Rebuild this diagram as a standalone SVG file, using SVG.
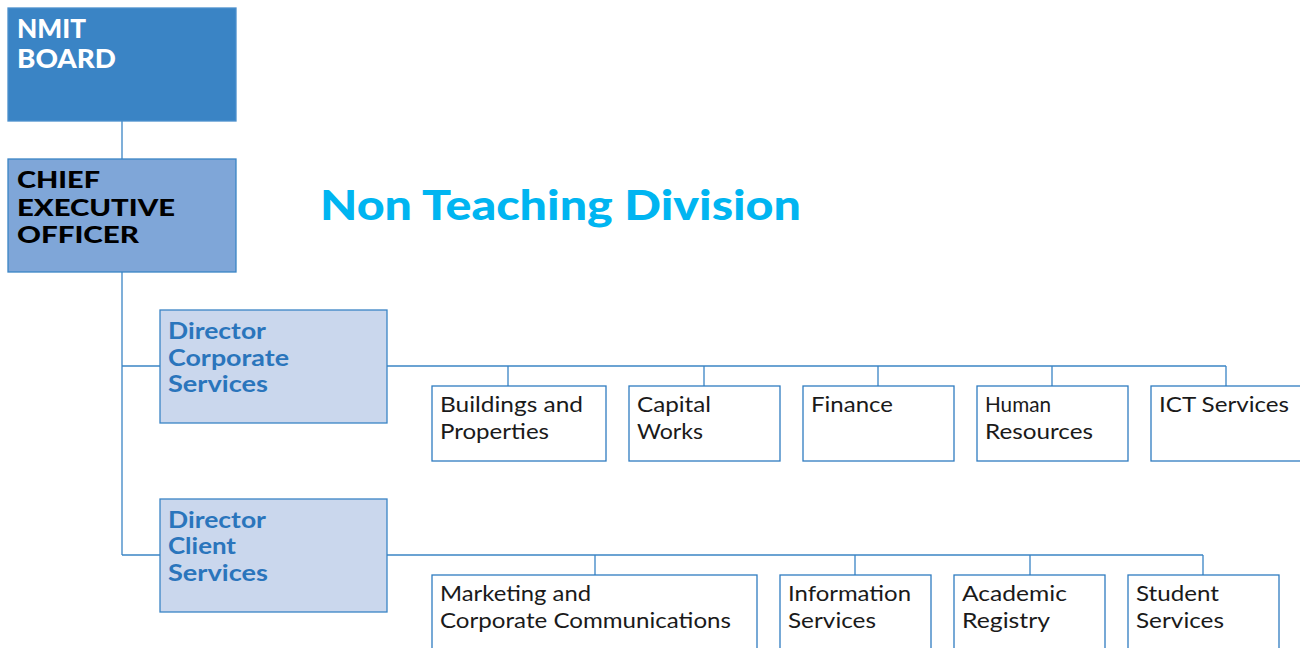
<svg xmlns="http://www.w3.org/2000/svg" width="1300" height="648" viewBox="0 0 1300 648">
  <style>
    text { font-family: Lato, "Noto Sans", sans-serif; }
    .board { fill: #3a84c5; stroke: #4a8fcc; stroke-width: 1.3; }
    .ceo { fill: #7fa6d8; stroke: #3a84c5; stroke-width: 1.3; }
    .dir { fill: #cad7ed; stroke: #3a84c5; stroke-width: 1.3; }
    .unit { fill: #ffffff; stroke: #2f7cc0; stroke-width: 1.3; }
    .t-board { fill: #ffffff; font-size: 26px; font-weight: 900; }
    .t-ceo { fill: #000000; font-size: 22px; font-weight: 900; }
    .t-dir { fill: #2a75bc; font-size: 22px; font-weight: 700; }
    .t-unit { fill: #1a1a1a; font-size: 20.5px; font-weight: 400; }
    .title { fill: #00b5f1; font-size: 41px; font-weight: 900; }
    .wire { fill: none; stroke: #3a84c5; stroke-width: 1.3; }
  </style>

  <!-- connectors -->
  <g id="connectors" class="wire">
    <path d="M122 121 V159"/>
    <path d="M122 272 V555"/>
    <path d="M122 366 H160"/>
    <path d="M122 555 H160"/>
    <path d="M387 366 H1226"/>
    <path d="M508 366 V386 M704 366 V386 M878 366 V386 M1052 366 V386 M1226 366 V386"/>
    <path d="M387 555 H1203"/>
    <path d="M595 555 V575 M855 555 V575 M1030 555 V575 M1203 555 V575"/>
  </g>

  <text class="title" x="320" y="220" textLength="481" lengthAdjust="spacingAndGlyphs">Non Teaching Division</text>

  <g id="nmit-board">
    <rect class="board" x="8" y="8" width="228" height="113"/>
    <text class="t-board" x="17" y="38" textLength="69" lengthAdjust="spacingAndGlyphs">NMIT</text>
    <text class="t-board" x="17" y="68" textLength="99" lengthAdjust="spacingAndGlyphs">BOARD</text>
  </g>

  <g id="ceo">
    <rect class="ceo" x="8" y="159" width="228" height="113"/>
    <text class="t-ceo" x="17" y="188" textLength="83" lengthAdjust="spacingAndGlyphs">CHIEF</text>
    <text class="t-ceo" x="17" y="216" textLength="158" lengthAdjust="spacingAndGlyphs">EXECUTIVE</text>
    <text class="t-ceo" x="17" y="243" textLength="122" lengthAdjust="spacingAndGlyphs">OFFICER</text>
  </g>

  <g id="director-corporate">
    <rect class="dir" x="160" y="310" width="227" height="113"/>
    <text class="t-dir" x="168" y="339" textLength="98" lengthAdjust="spacingAndGlyphs">Director</text>
    <text class="t-dir" x="168" y="366" textLength="121" lengthAdjust="spacingAndGlyphs">Corporate</text>
    <text class="t-dir" x="168" y="392" textLength="100" lengthAdjust="spacingAndGlyphs">Services</text>
  </g>

  <g id="director-client">
    <rect class="dir" x="160" y="499" width="227" height="113"/>
    <text class="t-dir" x="168" y="528" textLength="98" lengthAdjust="spacingAndGlyphs">Director</text>
    <text class="t-dir" x="168" y="554" textLength="68" lengthAdjust="spacingAndGlyphs">Client</text>
    <text class="t-dir" x="168" y="581" textLength="100" lengthAdjust="spacingAndGlyphs">Services</text>
  </g>

  <!-- corporate services units -->
  <g id="buildings">
    <rect class="unit" x="432" y="386" width="174" height="75"/>
    <text class="t-unit" x="440" y="412" textLength="143" lengthAdjust="spacingAndGlyphs">Buildings and</text>
    <text class="t-unit" x="440" y="439" textLength="109" lengthAdjust="spacingAndGlyphs">Properties</text>
  </g>
  <g id="capital-works">
    <rect class="unit" x="629" y="386" width="151" height="75"/>
    <text class="t-unit" x="637" y="412" textLength="74" lengthAdjust="spacingAndGlyphs">Capital</text>
    <text class="t-unit" x="637" y="439" textLength="66" lengthAdjust="spacingAndGlyphs">Works</text>
  </g>
  <g id="finance">
    <rect class="unit" x="803" y="386" width="151" height="75"/>
    <text class="t-unit" x="811" y="412" textLength="82" lengthAdjust="spacingAndGlyphs">Finance</text>
  </g>
  <g id="human-resources">
    <rect class="unit" x="977" y="386" width="151" height="75"/>
    <text class="t-unit" x="985" y="412" textLength="66" lengthAdjust="spacingAndGlyphs">Human</text>
    <text class="t-unit" x="985" y="439" textLength="108" lengthAdjust="spacingAndGlyphs">Resources</text>
  </g>
  <g id="ict-services">
    <rect class="unit" x="1151" y="386" width="151" height="75"/>
    <text class="t-unit" x="1159" y="412" textLength="130" lengthAdjust="spacingAndGlyphs">ICT Services</text>
  </g>

  <!-- client services units -->
  <g id="marketing">
    <rect class="unit" x="432" y="575" width="325" height="80"/>
    <text class="t-unit" x="440" y="601" textLength="151" lengthAdjust="spacingAndGlyphs">Marketing and</text>
    <text class="t-unit" x="440" y="628" textLength="291" lengthAdjust="spacingAndGlyphs">Corporate Communications</text>
  </g>
  <g id="information-services">
    <rect class="unit" x="780" y="575" width="151" height="80"/>
    <text class="t-unit" x="788" y="601" textLength="123" lengthAdjust="spacingAndGlyphs">Information</text>
    <text class="t-unit" x="788" y="628" textLength="88" lengthAdjust="spacingAndGlyphs">Services</text>
  </g>
  <g id="academic-registry">
    <rect class="unit" x="954" y="575" width="151" height="80"/>
    <text class="t-unit" x="962" y="601" textLength="105" lengthAdjust="spacingAndGlyphs">Academic</text>
    <text class="t-unit" x="962" y="628" textLength="88" lengthAdjust="spacingAndGlyphs">Registry</text>
  </g>
  <g id="student-services">
    <rect class="unit" x="1128" y="575" width="151" height="80"/>
    <text class="t-unit" x="1136" y="601" textLength="83" lengthAdjust="spacingAndGlyphs">Student</text>
    <text class="t-unit" x="1136" y="628" textLength="88" lengthAdjust="spacingAndGlyphs">Services</text>
  </g>
</svg>
